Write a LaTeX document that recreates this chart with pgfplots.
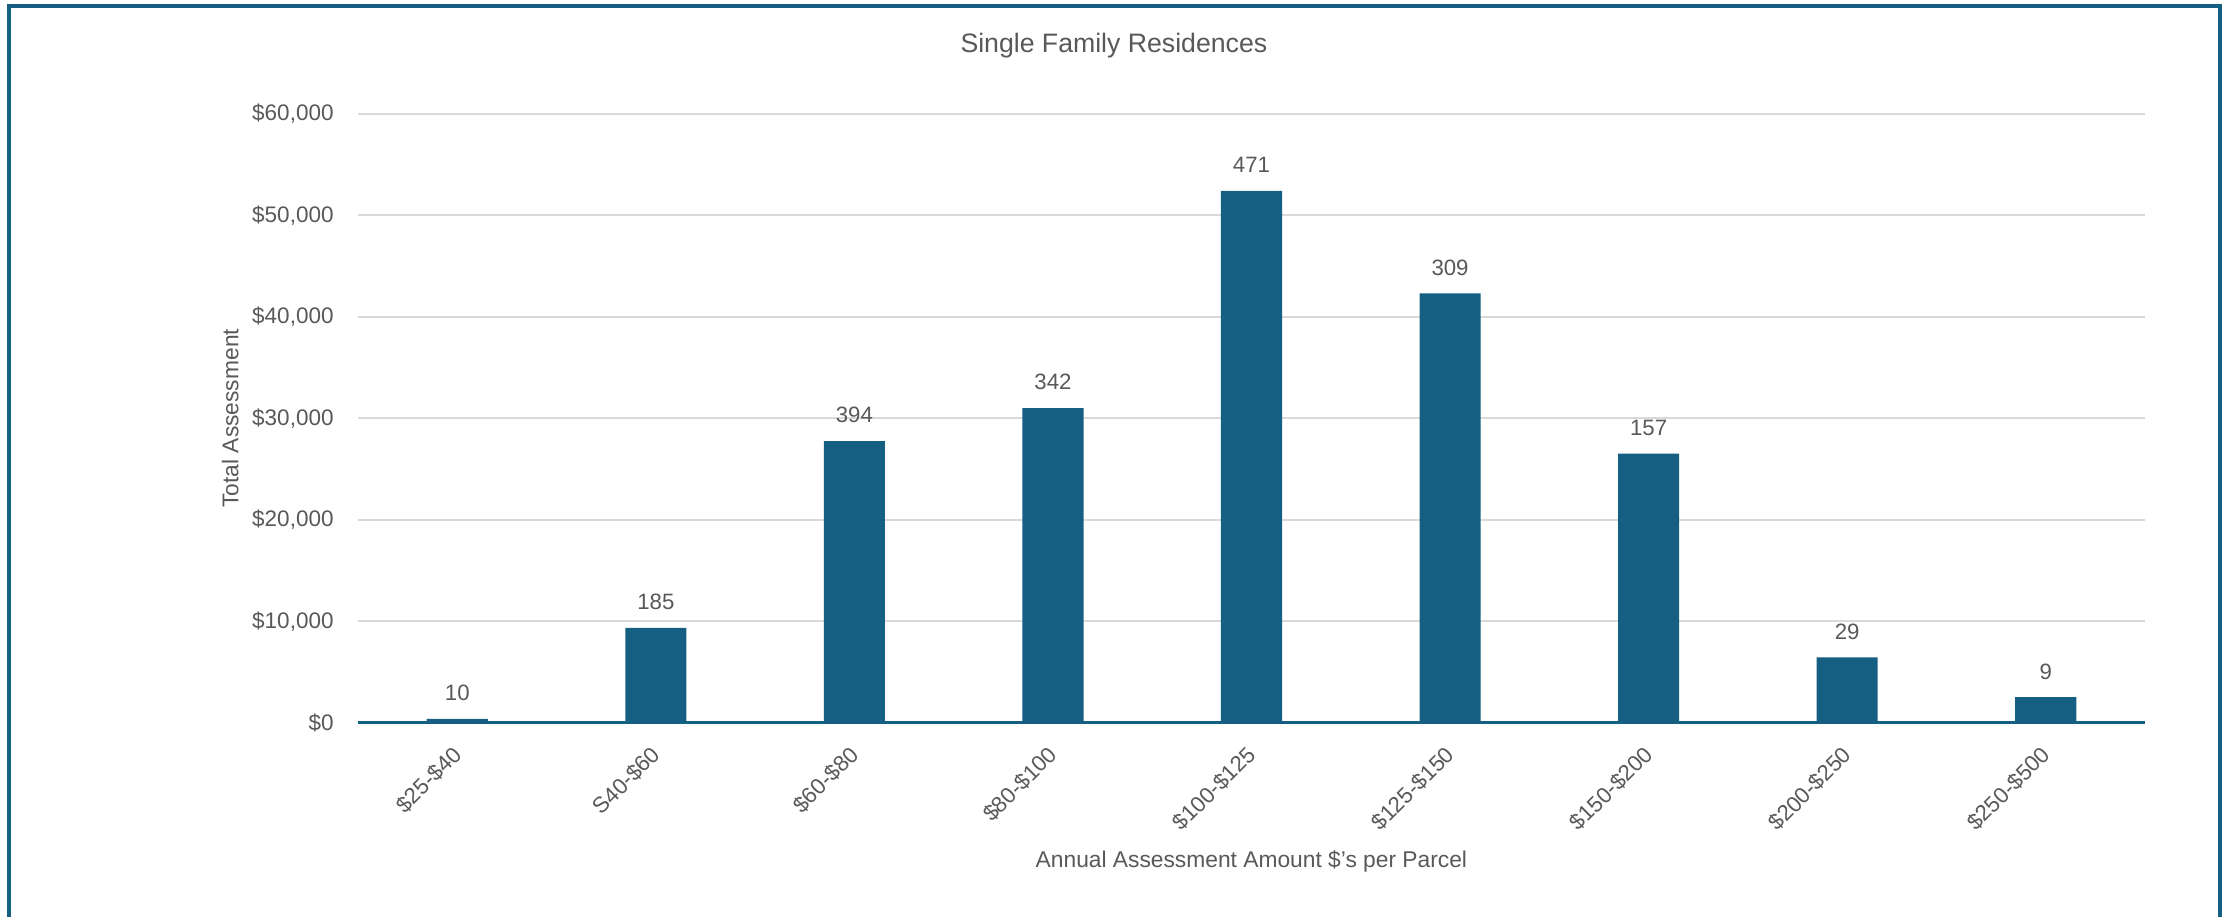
\documentclass[border=0pt]{standalone}
\usepackage{pgfplots}
\pgfplotsset{compat=1.18}
\usepackage{pgfplotstable}
\usepackage{fontspec}
\setmainfont{Liberation Sans}
\definecolor{barcol}{HTML}{156082}
\definecolor{bordercol}{HTML}{156082}
\definecolor{textgray}{HTML}{595959}
\definecolor{gridgray}{HTML}{D9D9D9}

\pgfplotstableread{
x y n
0 370 10
1 9350 185
2 27750 394
3 31000 342
4 52400 471
5 42300 309
6 26500 157
7 6440 29
8 2510 9
}\datatable

\begin{document}
\begin{tikzpicture}
\useasboundingbox (0,0) rectangle (803.16pt,329.76pt);
\fill[white] (0,0) rectangle (803.16pt,329.76pt);
\draw[bordercol, line width=1.1pt] (3.24pt,-6pt) rectangle (799.2pt,327.6pt);
\begin{axis}[
  at={(128.88pt,69.59pt)}, anchor=south west,
  scale only axis, width=643.32pt, height=219.24pt,
  xmin=-0.5, xmax=8.5, ymin=0, ymax=60000,
  scaled y ticks=false,
  ybar, bar width=22pt,
  axis line style={draw=none},
  tick style={draw=none},
  ymajorgrids, grid style={gridgray, line width=0.72pt},
  ytick={0,10000,20000,30000,40000,50000,60000},
  yticklabels={{\$0},{\$10,000},{\$20,000},{\$30,000},{\$40,000},{\$50,000},{\$60,000}},
  yticklabel style={font=\fontsize{8.1}{9}\selectfont, text=textgray, inner sep=0pt, xshift=-8.6pt},
  xtick={0,1,2,3,4,5,6,7,8},
  xticklabels={{\$25-\$40},{S40-\$60},{\$60-\$80},{\$80-\$100},{\$100-\$125},{\$125-\$150},{\$150-\$200},{\$200-\$250},{\$250-\$500}},
  xticklabel style={yshift=-3.4pt, xshift=-2.2pt, rotate=45, anchor=north east, inner sep=0pt, font=\fontsize{8}{9}\selectfont, text=textgray},
  nodes near coords, point meta=explicit symbolic,
  nodes near coords style={anchor=base, inner sep=0pt, yshift=6.5pt, font=\fontsize{8}{9}\selectfont, text=textgray},
  clip=false,
]
\addplot[fill=barcol, draw=none] table[x=x, y=y, meta=n] {\datatable};
\draw[barcol, line width=0.9pt] (axis cs:-0.5,0) -- (axis cs:8.5,0);
\end{axis}
\node[anchor=base, text=textgray, font=\fontsize{9.6}{11}\selectfont] at (401pt,310.7pt) {Single Family Residences};
\node[anchor=base, rotate=90, text=textgray, font=\fontsize{8.2}{10}\selectfont] at (85.8pt,179.2pt) {Total Assessment};
\node[anchor=base, text=textgray, font=\fontsize{8.2}{10}\selectfont] at (450.5pt,17.64pt) {Annual Assessment Amount \$'s per Parcel};
\end{tikzpicture}
\end{document}
